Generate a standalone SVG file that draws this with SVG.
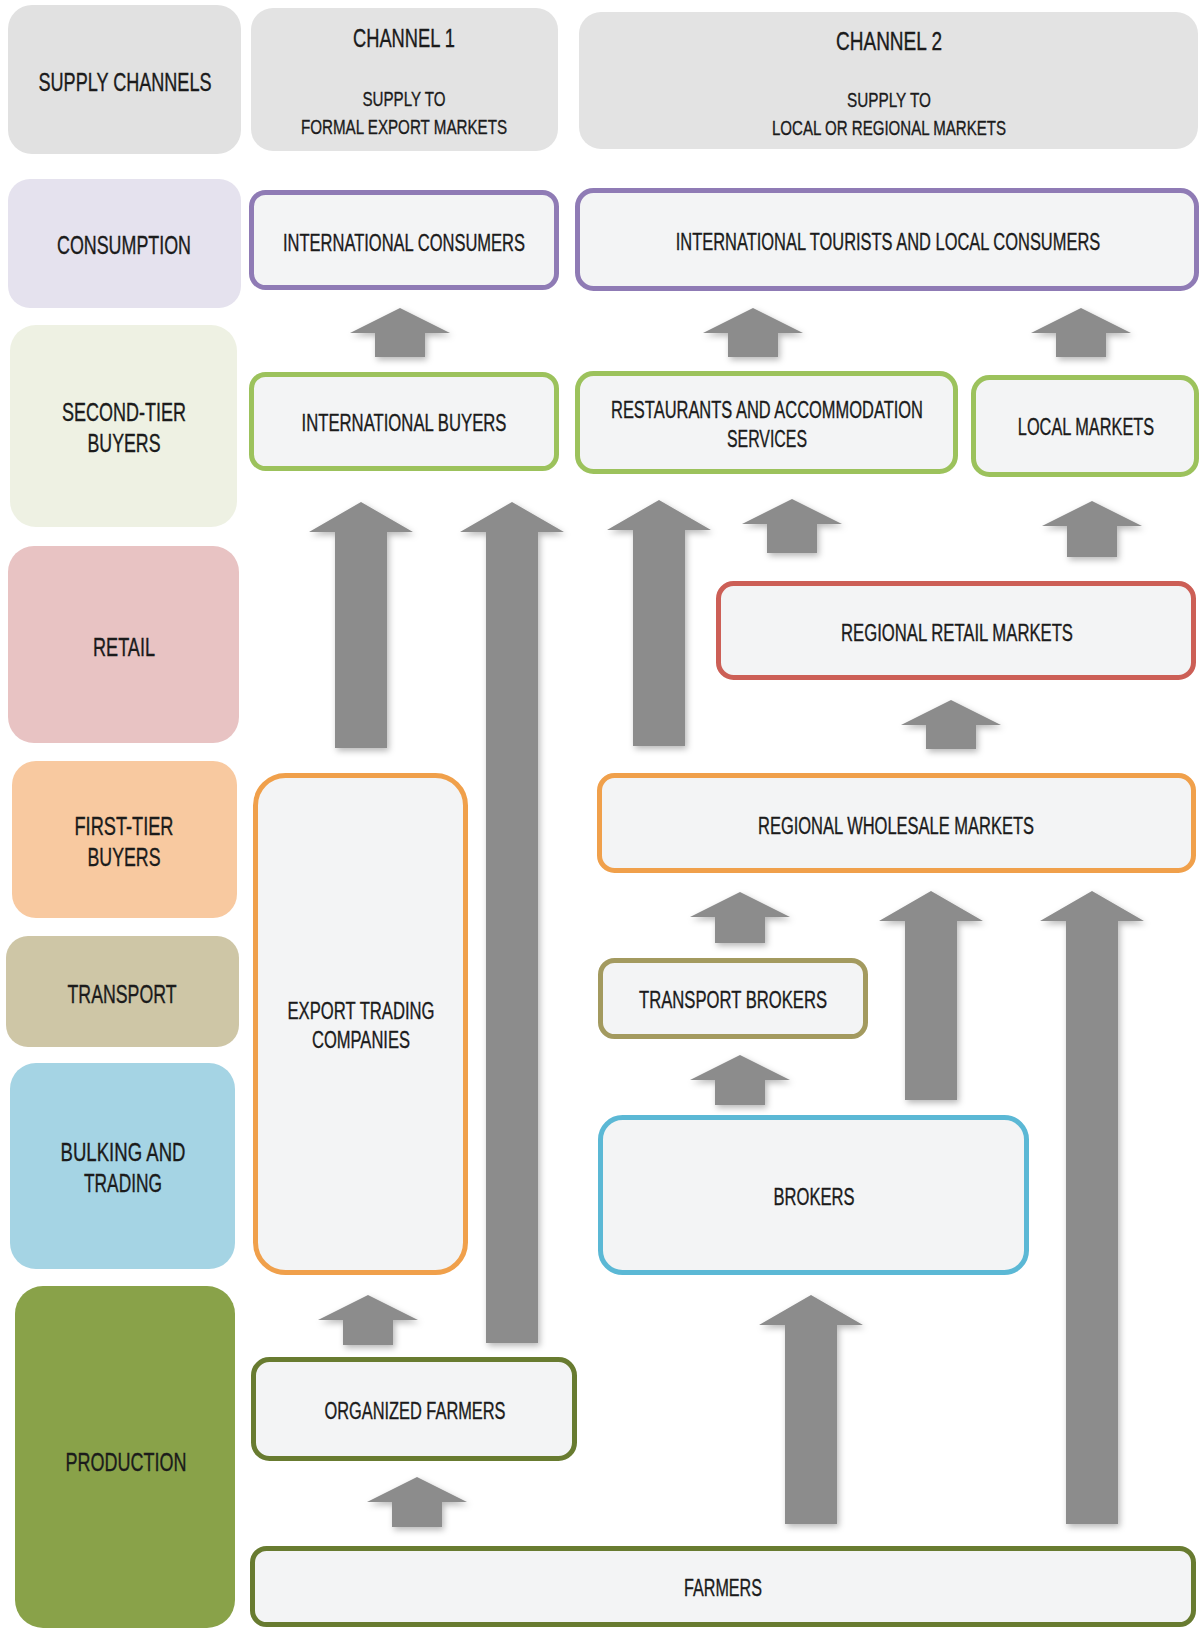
<svg xmlns="http://www.w3.org/2000/svg" width="1203" height="1630" viewBox="0 0 1203 1630">
<defs>
<filter id="sh" x="-20%" y="-20%" width="140%" height="140%">
<feDropShadow dx="2" dy="3" stdDeviation="3" flood-color="#000" flood-opacity="0.28"/>
</filter>
<style>
text{font-family:"Liberation Sans",Arial,sans-serif;fill:#1b1b1b;stroke:#1b1b1b;stroke-width:0.35;text-anchor:middle}
.h{font-size:25px}
.s{font-size:21px}
.l{font-size:25px}
.n{font-size:23px}
.cat{stroke:none}
.node{fill:#f3f4f5;stroke-width:5}
.arrow{fill:#8c8c8c;filter:url(#sh)}
</style>
</defs>
<rect width="1203" height="1630" fill="#ffffff"/>

<g id="header-supply-channels"><rect class="cat" x="8" y="5" width="233" height="149" rx="24" fill="#e1e1e1"/><text class="h" x="125" y="91" textLength="173" lengthAdjust="spacingAndGlyphs">SUPPLY CHANNELS</text></g>
<g id="header-channel-1"><rect class="cat" x="251" y="8" width="307" height="143" rx="22" fill="#e3e3e3"/><text class="h" x="404" y="47" textLength="102" lengthAdjust="spacingAndGlyphs">CHANNEL 1</text><text class="s" x="404" y="106" textLength="83" lengthAdjust="spacingAndGlyphs">SUPPLY TO</text><text class="s" x="404" y="134" textLength="206" lengthAdjust="spacingAndGlyphs">FORMAL EXPORT MARKETS</text></g>
<g id="header-channel-2"><rect class="cat" x="579" y="12" width="619" height="137" rx="22" fill="#e3e3e3"/><text class="h" x="889" y="50" textLength="106" lengthAdjust="spacingAndGlyphs">CHANNEL 2</text><text class="s" x="889" y="107" textLength="84" lengthAdjust="spacingAndGlyphs">SUPPLY TO</text><text class="s" x="889" y="135" textLength="234" lengthAdjust="spacingAndGlyphs">LOCAL OR REGIONAL MARKETS</text></g>

<g id="cat-consumption"><rect class="cat" x="8" y="179" width="233" height="129" rx="22" fill="#e5e2ee"/><text class="l" x="124" y="254" textLength="134" lengthAdjust="spacingAndGlyphs">CONSUMPTION</text></g>
<g id="cat-second-tier"><rect class="cat" x="10" y="325" width="227" height="202" rx="26" fill="#eef1e3"/><text class="l" x="124" y="421" textLength="124" lengthAdjust="spacingAndGlyphs">SECOND-TIER</text><text class="l" x="124" y="452" textLength="73" lengthAdjust="spacingAndGlyphs">BUYERS</text></g>
<g id="cat-retail"><rect class="cat" x="8" y="546" width="231" height="197" rx="26" fill="#e8c3c3"/><text class="l" x="124" y="656" textLength="62" lengthAdjust="spacingAndGlyphs">RETAIL</text></g>
<g id="cat-first-tier"><rect class="cat" x="12" y="761" width="225" height="157" rx="24" fill="#f8c9a0"/><text class="l" x="124" y="835" textLength="99" lengthAdjust="spacingAndGlyphs">FIRST-TIER</text><text class="l" x="124" y="866" textLength="73" lengthAdjust="spacingAndGlyphs">BUYERS</text></g>
<g id="cat-transport"><rect class="cat" x="6" y="936" width="233" height="111" rx="22" fill="#cec6a6"/><text class="l" x="122" y="1003" textLength="109" lengthAdjust="spacingAndGlyphs">TRANSPORT</text></g>
<g id="cat-bulking"><rect class="cat" x="10" y="1063" width="225" height="206" rx="26" fill="#a5d4e4"/><text class="l" x="123" y="1161" textLength="125" lengthAdjust="spacingAndGlyphs">BULKING AND</text><text class="l" x="123" y="1192" textLength="78" lengthAdjust="spacingAndGlyphs">TRADING</text></g>
<g id="cat-production"><rect class="cat" x="15" y="1286" width="220" height="342" rx="28" fill="#89a249"/><text class="l" x="126" y="1471" textLength="121" lengthAdjust="spacingAndGlyphs">PRODUCTION</text></g>

<g id="connectors">
<path class="arrow" d="M400,308 L450,333 L425,333 L425,357 L375,357 L375,333 L350,333 Z"/>
<path class="arrow" d="M753,308 L803,333 L778,333 L778,357 L728,357 L728,333 L703,333 Z"/>
<path class="arrow" d="M1081,308 L1131,333 L1106,333 L1106,357 L1056,357 L1056,333 L1031,333 Z"/>
<path class="arrow" d="M792,499 L842,524 L817,524 L817,553 L767,553 L767,524 L742,524 Z"/>
<path class="arrow" d="M1092,501 L1142,526 L1117,526 L1117,557 L1067,557 L1067,526 L1042,526 Z"/>
<path class="arrow" d="M951,700 L1001,725 L976,725 L976,749 L926,749 L926,725 L901,725 Z"/>
<path class="arrow" d="M740,892 L790,917 L765,917 L765,943 L715,943 L715,917 L690,917 Z"/>
<path class="arrow" d="M740,1055 L790,1080 L765,1080 L765,1105 L715,1105 L715,1080 L690,1080 Z"/>
<path class="arrow" d="M368,1295 L418,1320 L393,1320 L393,1345 L343,1345 L343,1320 L318,1320 Z"/>
<path class="arrow" d="M417,1477 L467,1502 L442,1502 L442,1527 L392,1527 L392,1502 L367,1502 Z"/>
<path class="arrow" d="M361,502 L413,532 L387,532 L387,748 L335,748 L335,532 L309,532 Z"/>
<path class="arrow" d="M512,502 L564,532 L538,532 L538,1343 L486,1343 L486,532 L460,532 Z"/>
<path class="arrow" d="M659,500 L711,530 L685,530 L685,746 L633,746 L633,530 L607,530 Z"/>
<path class="arrow" d="M931,891 L983,921 L957,921 L957,1100 L905,1100 L905,921 L879,921 Z"/>
<path class="arrow" d="M1092,891 L1144,921 L1118,921 L1118,1524 L1066,1524 L1066,921 L1040,921 Z"/>
<path class="arrow" d="M811,1295 L863,1325 L837,1325 L837,1524 L785,1524 L785,1325 L759,1325 Z"/>
</g>

<g id="node-international-consumers"><rect class="node" x="251.5" y="192.5" width="305" height="95" rx="14" stroke="#8f7bb5"/><text class="n" x="404" y="251" textLength="242" lengthAdjust="spacingAndGlyphs">INTERNATIONAL CONSUMERS</text></g>
<g id="node-tourists-local-consumers"><rect class="node" x="577.5" y="190.5" width="619" height="98" rx="16" stroke="#8f7bb5"/><text class="n" transform="translate(888,250) scale(0.715,1)" x="0" y="0">INTERNATIONAL TOURISTS AND LOCAL CONSUMERS</text></g>
<g id="node-international-buyers"><rect class="node" x="251.5" y="374.5" width="305" height="94" rx="14" stroke="#9cc25c"/><text class="n" x="404" y="431" textLength="205" lengthAdjust="spacingAndGlyphs">INTERNATIONAL BUYERS</text></g>
<g id="node-restaurants"><rect class="node" x="577.5" y="373.5" width="378" height="98" rx="16" stroke="#9cc25c"/><text class="n" x="767" y="418" textLength="312" lengthAdjust="spacingAndGlyphs">RESTAURANTS AND ACCOMMODATION</text><text class="n" x="767" y="447" textLength="80" lengthAdjust="spacingAndGlyphs">SERVICES</text></g>
<g id="node-local-markets"><rect class="node" x="973.5" y="377.5" width="223" height="97" rx="16" stroke="#9cc25c"/><text class="n" transform="translate(1086,435) scale(0.71,1)" x="0" y="0">LOCAL MARKETS</text></g>
<g id="node-regional-retail"><rect class="node" x="718.5" y="583.5" width="475" height="94" rx="15" stroke="#cc5f56"/><text class="n" x="957" y="641" textLength="232" lengthAdjust="spacingAndGlyphs">REGIONAL RETAIL MARKETS</text></g>
<g id="node-regional-wholesale"><rect class="node" x="599.5" y="775.5" width="594" height="95" rx="15" stroke="#f0a04b"/><text class="n" x="896" y="834" textLength="276" lengthAdjust="spacingAndGlyphs">REGIONAL WHOLESALE MARKETS</text></g>
<g id="node-export-trading"><rect class="node" x="255.5" y="775.5" width="210" height="497" rx="30" stroke="#f0a04b"/><text class="n" x="361" y="1019" textLength="147" lengthAdjust="spacingAndGlyphs">EXPORT TRADING</text><text class="n" x="361" y="1048" textLength="98" lengthAdjust="spacingAndGlyphs">COMPANIES</text></g>
<g id="node-transport-brokers"><rect class="node" x="600.5" y="960.5" width="265" height="76" rx="14" stroke="#a39a5f"/><text class="n" x="733" y="1008" textLength="188" lengthAdjust="spacingAndGlyphs">TRANSPORT BROKERS</text></g>
<g id="node-brokers"><rect class="node" x="600.5" y="1117.5" width="426" height="155" rx="22" stroke="#5bb8d5"/><text class="n" x="814" y="1205" textLength="81" lengthAdjust="spacingAndGlyphs">BROKERS</text></g>
<g id="node-organized-farmers"><rect class="node" x="253.5" y="1359.5" width="321" height="99" rx="16" stroke="#687b30" stroke-width="6"/><text class="n" x="415" y="1419" textLength="181" lengthAdjust="spacingAndGlyphs">ORGANIZED FARMERS</text></g>
<g id="node-farmers"><rect class="node" x="252.5" y="1548.5" width="941" height="76" rx="14" stroke="#687b30" stroke-width="6"/><text class="n" x="723" y="1596" textLength="78" lengthAdjust="spacingAndGlyphs">FARMERS</text></g>
</svg>
